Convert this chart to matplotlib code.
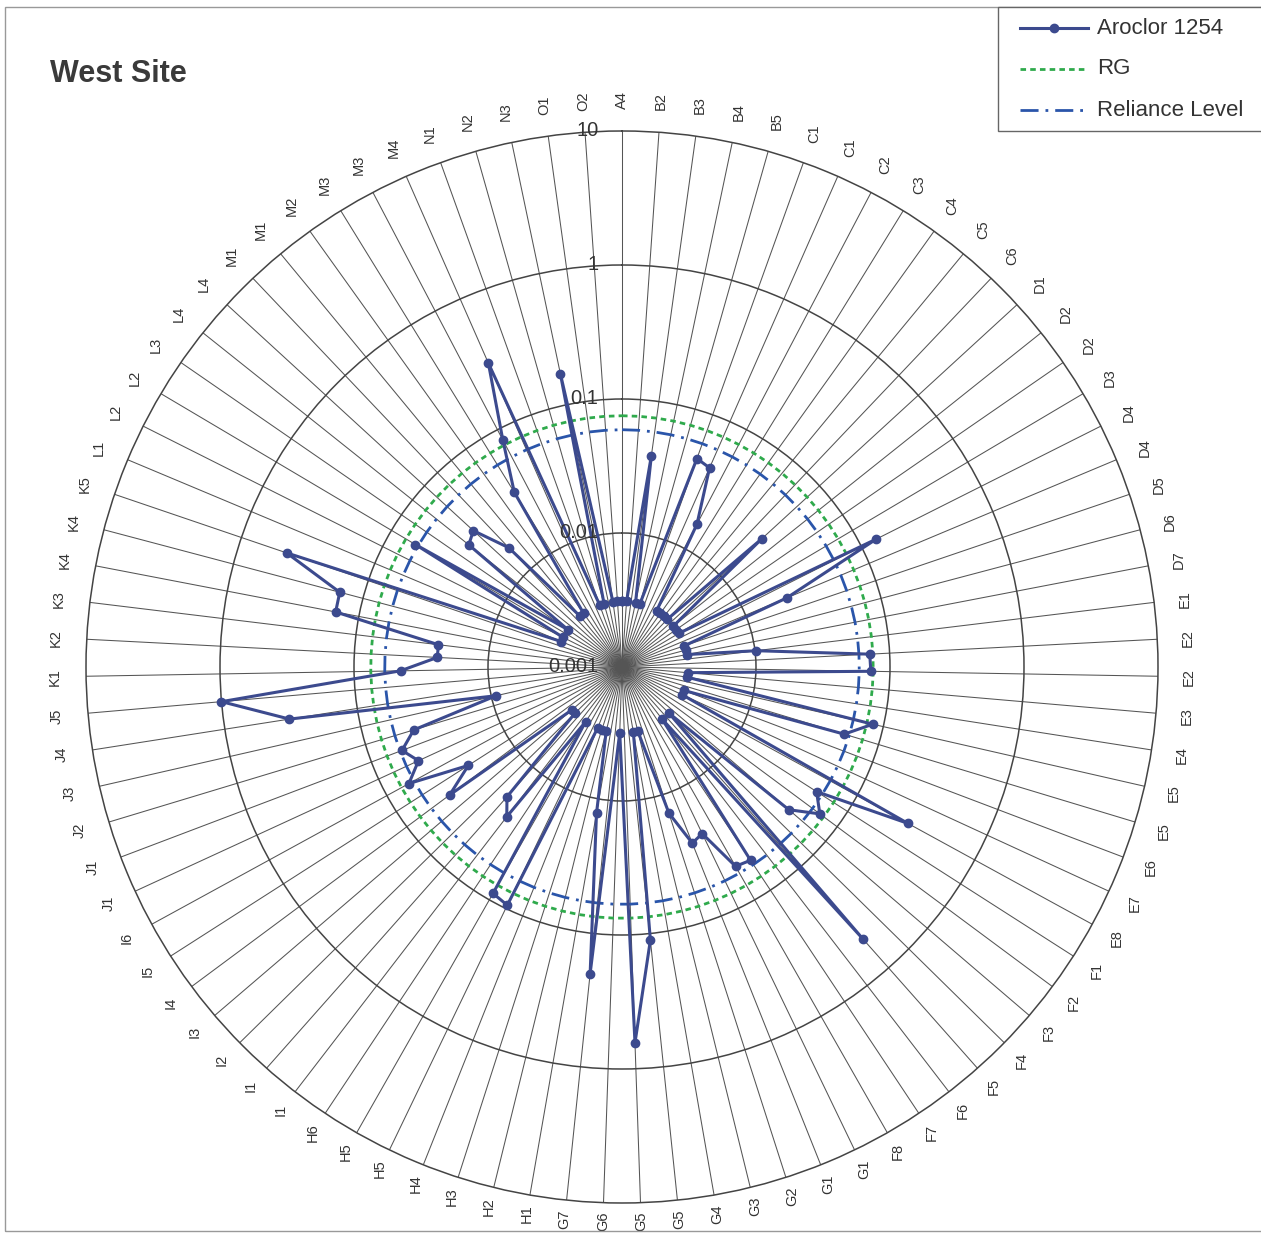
import numpy as np
import matplotlib
matplotlib.use("Agg")
import matplotlib.pyplot as plt
from matplotlib.lines import Line2D
from matplotlib.patches import Rectangle
from matplotlib.ticker import NullLocator

plt.rcParams['font.family'] = ['Liberation Sans', 'DejaVu Sans']
plt.rcParams['lines.scale_dashes'] = False

# Sampling stations, clockwise from the top
stations = [
    "A4", "B2", "B3", "B4", "B5", "C1", "C1", "C2", "C3", "C4", "C5", "C6",
    "D1", "D2", "D2", "D3", "D4", "D4", "D5", "D6", "D7", "E1", "E2", "E2",
    "E3", "E4", "E5", "E5", "E6", "E7", "E8", "F1", "F2", "F3", "F4", "F5",
    "F6", "F7", "F8", "G1", "G1", "G2", "G3", "G4", "G5", "G5", "G6", "G7",
    "H1", "H2", "H3", "H4", "H5", "H5", "H6", "I1", "I1", "I2", "I3", "I4",
    "I5", "I6", "J1", "J1", "J2", "J3", "J4", "J5", "K1", "K2", "K3", "K4",
    "K4", "K5", "L1", "L2", "L2", "L3", "L4", "L4", "M1", "M1", "M2", "M3",
    "M3", "M4", "N1", "N2", "N3", "O1", "O2",
]

# Aroclor 1254 concentration at each station
aroclor_1254 = [
    0.0031, 0.0031, 0.039, 0.0031, 0.0031, 0.045, 0.042, 0.016, 0.0031, 0.0031,
    0.0031, 0.0031, 0.026, 0.0031, 0.0031, 0.0031, 0.133, 0.0215, 0.0031, 0.0031,
    0.0031, 0.0102, 0.071, 0.072, 0.0031, 0.0031, 0.083, 0.054, 0.0031, 0.0031,
    0.27, 0.053, 0.069, 0.0435, 0.0031, 0.51, 0.0031, 0.054, 0.0515, 0.024,
    0.026, 0.014, 0.0031, 0.0031, 0.112, 0.64, 0.0031, 0.20, 0.0128, 0.0031,
    0.0031, 0.0031, 0.094, 0.088, 0.0031, 0.0257, 0.0197, 0.0031, 0.0031, 0.040,
    0.023, 0.065, 0.047, 0.057, 0.042, 0.0092, 0.325, 1.0, 0.045, 0.024,
    0.024, 0.150, 0.151, 0.44, 0.0031, 0.0031, 0.062, 0.0031, 0.029, 0.032,
    0.0169, 0.0031, 0.0031, 0.034, 0.082, 0.30, 0.0031, 0.0031, 0.173, 0.0031,
    0.0031,
]

rg_level = 0.075
reliance_level = 0.059

ring_values = [0.001, 0.01, 0.1, 1, 10]
ring_labels = ["0.001", "0.01", "0.1", "1", "10"]

series_names = ["Aroclor 1254", "RG", "Reliance Level"]

# ---------------------------------------------------------------------------
W, H, DPI = 1261, 1233, 100
fig = plt.figure(figsize=(W / DPI, H / DPI), dpi=DPI)
fig.patch.set_facecolor("white")


def fx(x):
    return x / W


def fy(y):
    return 1 - y / H


cx, cy, R = 622, 667, 536
ax = fig.add_axes([(cx - R) / W, (H - cy - R) / H, 2 * R / W, 2 * R / H],
                  projection="polar")
ax.set_theta_zero_location("N")
ax.set_theta_direction(-1)
ax.set_rscale("log")
ax.set_rlim(ring_values[0], ring_values[-1])
ax.yaxis.set_minor_locator(NullLocator())

n = len(stations)
theta_deg = np.arange(n) * 360.0 / n
theta = np.deg2rad(theta_deg)

grid_color = "#555555"
ax.set_thetagrids(theta_deg, labels=[""] * n)
ax.set_rgrids(ring_values[1:-1], labels=[""] * (len(ring_values) - 2))
ax.tick_params(length=0)
ax.xaxis.grid(True, color=grid_color, lw=0.75)
ax.yaxis.grid(True, color="#444444", lw=1.1)
ax.spines["polar"].set_color("#444444")
ax.spines["polar"].set_linewidth(1.1)
ax.set_facecolor("white")

th_closed = np.append(theta, theta[0])

data_color = "#3C4A8E"
rg_color = "#2FAA4C"
rel_color = "#2A55AA"
rg_dash = (0, (4, 3))
rel_dash = (0, (13, 5, 2, 5))

ax.plot(th_closed, [rg_level] * (n + 1), color=rg_color, lw=2.0,
        ls=rg_dash, zorder=3)
ax.plot(th_closed, [reliance_level] * (n + 1), color=rel_color, lw=2.0,
        ls=rel_dash, zorder=3)
ax.plot(th_closed, np.append(aroclor_1254, aroclor_1254[0]), color=data_color,
        lw=2.2, marker="o", ms=6, zorder=5)

# station labels around the outer ring (pulled in a little near the bottom)
px_per_decade = R / np.log10(ring_values[-1] / ring_values[0])
for t, lab in zip(theta, stations):
    r_px = 567 - 12 * max(0.0, -np.cos(t)) ** 2
    r_val = ring_values[0] * 10 ** (r_px / px_per_decade)
    ax.text(t, r_val, lab, rotation=90, ha="center", va="center",
            fontsize=10.5, color="#333333", clip_on=False)

# radial scale labels along the top spoke
for v, lab in zip(ring_values, ring_labels):
    ax.annotate(lab, xy=(0, v), xytext=(-17, 0), textcoords="offset points",
                ha="right", va="center", fontsize=14.5, color="#333333",
                zorder=6, annotation_clip=False)

# title
fig.text(fx(50), fy(74), "West Site", fontsize=22, fontweight="bold",
         color="#3A3A3A", ha="left", va="center")

# chart border
fig.add_artist(Rectangle((fx(5), fy(1231)), fx(1275) - fx(5), fy(7) - fy(1231),
                         transform=fig.transFigure, fill=False,
                         edgecolor="#999999", lw=1.0))

# legend
fig.add_artist(Rectangle((fx(998), fy(131)), fx(1280) - fx(998), fy(7) - fy(131),
                         transform=fig.transFigure, facecolor="white",
                         edgecolor="#666666", lw=1.0, zorder=10))
legend_rows = [28, 69, 110]
legend_styles = [
    dict(color=data_color, lw=2.2, ls="-"),
    dict(color=rg_color, lw=2.0, ls=rg_dash),
    dict(color=rel_color, lw=2.0, ls=rel_dash),
]
for name, yrow, style in zip(series_names, legend_rows, legend_styles):
    fig.add_artist(Line2D([fx(1020), fx(1088)], [fy(yrow), fy(yrow)],
                          transform=fig.transFigure, zorder=11, **style))
    fig.text(fx(1097), fy(yrow), name, fontsize=16, color="#333333",
             ha="left", va="center", zorder=11)
fig.add_artist(Line2D([fx(1054)], [fy(28)], transform=fig.transFigure,
                      marker="o", ms=6, color=data_color, zorder=12))

fig.savefig("out.png", dpi=DPI, facecolor="white")
